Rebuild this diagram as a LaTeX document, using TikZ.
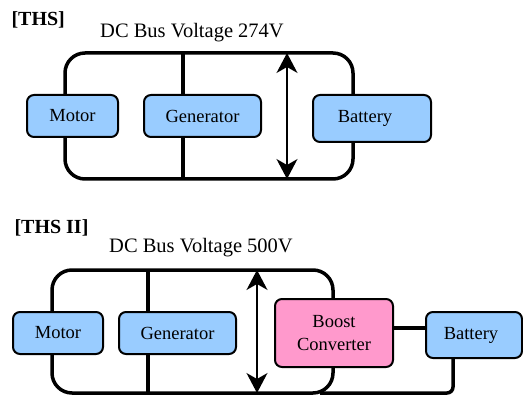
\documentclass[tikz,border=0pt]{standalone}
\usepackage{fontspec}
\setmainfont{Liberation Serif}
\usetikzlibrary{arrows.meta}
\definecolor{boxblue}{HTML}{99CCFF}
\definecolor{boxpink}{HTML}{FF99CC}
\tikzset{
  unitbox/.style={draw=black, line width=2pt, rounded corners=7pt, fill=boxblue,
    inner sep=0pt, font=\rmfamily\fontsize{18.5}{23}\selectfont, align=center},
  convbox/.style={unitbox, fill=boxpink},
  busline/.style={draw=black, line width=3.5pt, rounded corners=20pt},
  wire/.style={draw=black, line width=3.5pt},
  voltarrow/.style={line width=1.3pt, {Stealth[length=20pt,width=21pt,inset=6pt]}-{Stealth[length=20pt,width=21pt,inset=6pt]}},
  titlelabel/.style={font=\rmfamily\fontsize{20.5}{22}\selectfont},
  headlabel/.style={font=\rmfamily\bfseries\fontsize{20}{22}\selectfont}
}
\begin{document}
\begin{tikzpicture}[x=1pt,y=-1pt]
\useasboundingbox (0,0) rectangle (523,396);
% ---------------- THS ----------------
\node[headlabel, anchor=west] (ths) at (8,20) {[THS]};
\node[titlelabel] (title1) at (192,33) {DC Bus Voltage 274V};
\coordinate (a1tl) at (65,53);
\coordinate (a1br) at (353,179);
\coordinate (g1top) at (183,53);
\coordinate (g1bot) at (183,179);
\coordinate (v1top) at (287,53);
\coordinate (v1bot) at (287,179);
\path[busline] (a1tl) rectangle (a1br);
\draw[wire] (g1top) -- (g1bot);
\draw[voltarrow] (v1top) -- (v1bot);
\node[unitbox, minimum width=91pt, minimum height=42pt] (motor1) at (72.5,116) {Motor};
\node[unitbox, minimum width=117pt, minimum height=42pt] (gen1) at (202.5,116) {Generator};
\node[unitbox, minimum width=118pt, minimum height=47pt] (bat1) at (372,118.5) {Battery\hspace*{14pt}};
% ---------------- THS II ----------------
\node[headlabel, anchor=west] (ths2) at (11,228) {[THS II]};
\node[titlelabel] (title2) at (201,248) {DC Bus Voltage 500V};
\coordinate (a2tl) at (52,270);
\coordinate (a2br) at (333,393);
\coordinate (g2top) at (148,270);
\coordinate (g2bot) at (148,393);
\coordinate (v2top) at (257,270);
\coordinate (v2bot) at (257,393);
\coordinate (b2corner) at (453,393);
\coordinate (b2join) at (320,393);
\path[busline] (a2tl) rectangle (a2br);
\draw[wire] (g2top) -- (g2bot);
\draw[voltarrow] (v2top) -- (v2bot);
\node[unitbox, minimum width=90pt, minimum height=42pt] (motor2) at (58,333) {Motor};
\node[unitbox, minimum width=117pt, minimum height=42pt] (gen2) at (177.5,333) {Generator};
\node[convbox, minimum width=118pt, minimum height=68pt] (boost) at (334,333) {Boost\\Converter};
\node[unitbox, minimum width=96pt, minimum height=46pt] (bat2) at (474,335) {Battery\hspace*{6pt}};
\draw[wire] (boost.east |- 0,328) -- (bat2.west |- 0,328);
\draw[wire, rounded corners=6pt] (bat2.south -| b2corner) -- (b2corner) -- (b2join);
\end{tikzpicture}
\end{document}
